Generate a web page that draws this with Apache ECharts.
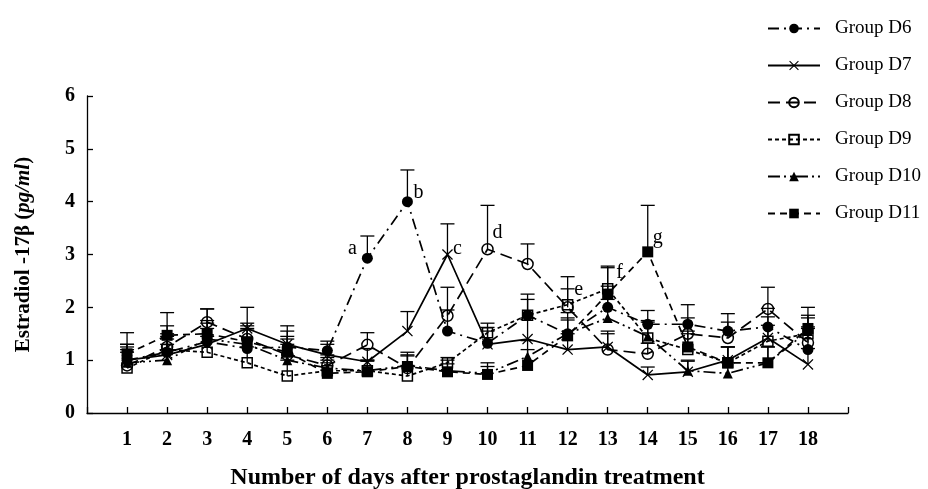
<!DOCTYPE html>
<html><head><meta charset="utf-8">
<script src="https://cdn.jsdelivr.net/npm/echarts@6/dist/echarts.min.js"></script>
<style>html,body{margin:0;padding:0;background:#fff}#c{width:928px;height:489px}</style>
</head><body><div id="c"></div>
<script>
const days = [1,2,3,4,5,6,7,8,9,10,11,12,13,14,15,16,17,18];
const groupNames = ['Group D6','Group D7','Group D8','Group D9','Group D10','Group D11'];
const d6  = [1.0, 1.15, 1.35, 1.22, 1.25, 1.18, 2.93, 4.0, 1.55, 1.32, 1.85, 1.5, 2.0, 1.68, 1.68, 1.55, 1.63, 1.2];
const d7  = [1.0, 1.1, 1.3, 1.6, 1.3, 1.1, 0.97, 1.55, 3.0, 1.3, 1.4, 1.2, 1.25, 0.72, 0.78, 1.0, 1.42, 0.92];
const d8  = [0.9, 1.25, 1.72, 1.4, 1.1, 0.9, 1.29, 0.85, 1.84, 3.1, 2.82, 2.0, 1.2, 1.12, 1.5, 1.42, 1.97, 1.33];
const d9  = [0.85, 1.2, 1.15, 0.95, 0.7, 0.8, 0.8, 0.7, 0.95, 1.52, 1.85, 2.05, 2.35, 1.42, 1.2, 0.95, 1.36, 1.5];
const d10 = [0.95, 1.0, 1.4, 1.3, 1.0, 0.85, 0.8, 0.9, 0.8, 0.75, 1.07, 1.5, 1.8, 1.45, 0.8, 0.75, 0.95, 1.55];
const d11 = [1.12, 1.47, 1.5, 1.35, 1.15, 0.75, 0.78, 0.88, 0.78, 0.73, 0.9, 1.46, 2.25, 3.05, 1.25, 0.95, 0.95, 1.6];
// upper error (SD) of each point
const e6  = [0.3, 0.3, 0.4, 0.35, 0.3, 0.18, 0.42, 0.6, 0.4, 0.3, 0.4, 0.4, 0.4, 0.26, 0.37, 0.33, 0.35, 0.4];
const e7  = [0.3, 0.3, 0.3, 0.4, 0.35, 0.2, 0.25, 0.37, 0.58, 0.25, 0.4, 0.3, 0.3, 0.15, 0.2, 0.25, 0.4, 0.3];
const e8  = [0.3, 0.4, 0.25, 0.3, 0.3, 0.2, 0.23, 0.3, 0.54, 0.83, 0.38, 0.58, 0.3, 0.2, 0.3, 0.3, 0.41, 0.3];
const e9  = [0.3, 0.3, 0.3, 0.3, 0.3, 0.2, 0.2, 0.2, 0.1, 0.18, 0.3, 0.3, 0.43, 0.3, 0.3, 0.3, 0.3, 0.3];
const e10 = [0.3, 0.3, 0.3, 0.3, 0.3, 0.2, 0.2, 0.2, 0.2, 0.2, 0.3, 0.3, 0.35, 0.3, 0.2, 0.2, 0.3, 0.3];
const e11 = [0.4, 0.43, 0.47, 0.3, 0.3, 0.2, 0.2, 0.2, 0.15, 0.15, 0.3, 0.3, 0.5, 0.88, 0.3, 0.3, 0.3, 0.4];
const xTickLabels = ['1','2','3','4','5','6','7','8','9','10','11','12','13','14','15','16','17','18'];
const yTickLabels = ['0','1','2','3','4','5','6'];
// significance letters
const annLetters = ['a','b','c','d','e','f','g'];
const annSeries  = ['Group D6','Group D6','Group D7','Group D8','Group D8','Group D9','Group D11'];
const annDays    = [7,8,9,10,12,13,14];

const values = [d6,d7,d8,d9,d10,d11];
const errors = [e6,e7,e8,e9,e10,e11];
const annOffsets = [[-15,-9],[11,-9],[10,-6],[10,-16],[11,-18],[12,-16],[10,-14]];

const SERIF = '"Liberation Serif","Times New Roman",serif';
const xPath = 'path://M0,1.6L1.6,0L10,8.4L18.4,0L20,1.6L11.6,10L20,18.4L18.4,20L10,11.6L1.6,20L0,18.4L8.4,10Z';
const styles = [
  {symbol:'circle', size:11, fill:'#000', dash:[11,5,2,5]},
  {symbol:xPath, size:11, fill:'#000', dash:'solid'},
  {symbol:'circle', size:11, fill:'rgba(0,0,0,0)', dash:[12,6]},
  {symbol:'rect', size:10, fill:'rgba(0,0,0,0)', dash:[4,3]},
  {symbol:'triangle', size:10, fill:'#000', dash:[12,4,2,4,2,4]},
  {symbol:'rect', size:11, fill:'#000', dash:[7,5]}
];

const series = [];
values.forEach((vals, gi) => {
  series.push({
    type:'custom', silent:true, z:1,
    data: days.map((d,i)=>[d, vals[i], errors[gi][i]]),
    encode:{x:0,y:1},
    renderItem:(params, api)=>{
      const p = api.coord([api.value(0), api.value(1)]);
      const t = api.coord([api.value(0), api.value(1)+api.value(2)]);
      return {type:'group', children:[
        {type:'line', shape:{x1:p[0],y1:p[1],x2:t[0],y2:t[1]}, style:{stroke:'#000',lineWidth:1.3}},
        {type:'line', shape:{x1:t[0]-7,y1:t[1],x2:t[0]+7,y2:t[1]}, style:{stroke:'#000',lineWidth:1.3}}
      ]};
    }
  });
});
values.forEach((vals, gi) => {
  const st = styles[gi];
  const name = groupNames[gi];
  series.push({
    name, type:'line', z:3,
    symbol: st.symbol, symbolSize: st.size,
    lineStyle:{color:'#000', width:1.7, type: st.dash},
    itemStyle:{color: st.fill, borderColor:'#000', borderWidth: st.fill==='#000'?0:1.5},
    data: days.map((d,i)=>{
      const item = {value:[d, vals[i]]};
      annLetters.forEach((L, k)=>{
        if (annSeries[k]===name && annDays[k]===d) {
          item.label = {show:true, formatter:L, position:'inside', offset:annOffsets[k],
            color:'#000', fontFamily:SERIF, fontSize:20, align:'center', verticalAlign:'middle'};
        }
      });
      return item;
    })
  });
});

const chart = echarts.init(document.getElementById('c'));
chart.setOption({
  animation:false,
  backgroundColor:'#fff',
  grid:{left:87, right:80, top:96, bottom:76, containLabel:false, outerBoundsMode:'none'},
  legend:{
    data: groupNames, orient:'vertical', left:767, top:19, padding:0,
    itemWidth:52, itemHeight:12, itemGap:18,
    textStyle:{fontFamily:SERIF, fontSize:19, color:'#000', padding:[0,0,0,10]},
    selectedMode:false
  },
  xAxis:{
    type:'value', min:0, max:19, interval:1,
    axisLine:{lineStyle:{color:'#000', width:1.3}},
    axisTick:{inside:true, length:6, lineStyle:{color:'#000', width:1.3}},
    splitLine:{show:false},
    axisLabel:{margin:17, color:'#000', fontFamily:SERIF, fontWeight:'bold', fontSize:20,
      formatter:(v)=> (v>=1 && v<=18) ? xTickLabels[v-1] : ''},
    name:'Number of days after prostaglandin treatment', nameLocation:'middle', nameGap:53,
    nameTextStyle:{color:'#000', fontFamily:SERIF, fontWeight:'bold', fontSize:24}
  },
  yAxis:{
    type:'value', min:0, max:6, interval:1,
    axisLine:{show:true, lineStyle:{color:'#000', width:1.3}},
    axisTick:{show:true, inside:true, length:6, lineStyle:{color:'#000', width:1.3}},
    splitLine:{show:false},
    axisLabel:{margin:12, color:'#000', fontFamily:SERIF, fontWeight:'bold', fontSize:20,
      formatter:(v)=> yTickLabels[v]},
    name:'Estradiol -17β ({i|pg/ml})', nameLocation:'middle', nameGap:53, nameRotate:90,
    nameTextStyle:{color:'#000', fontFamily:SERIF, fontWeight:'bold', fontSize:21,
      rich:{i:{fontFamily:SERIF, fontWeight:'bold', fontStyle:'italic', fontSize:21, color:'#000'}}}
  },
  series
});
</script></body></html>
